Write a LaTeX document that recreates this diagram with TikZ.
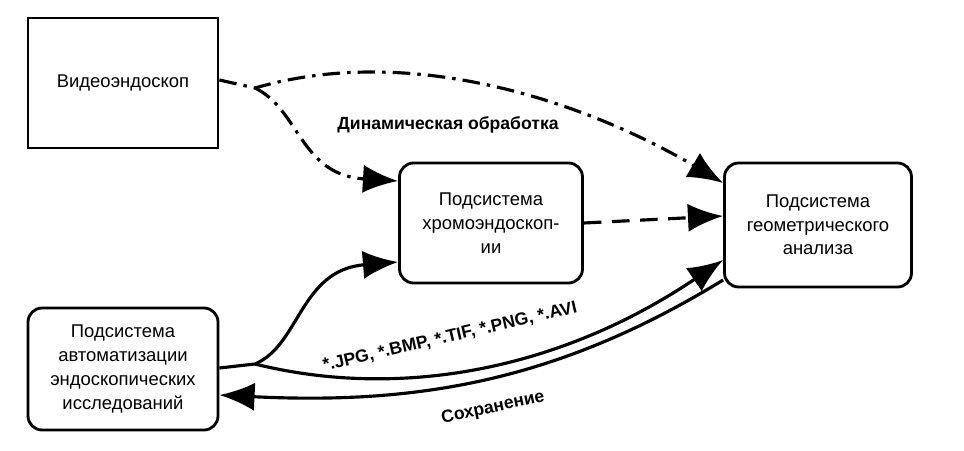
\documentclass[tikz,border=0pt]{standalone}
\usepackage{fontspec}
\setmainfont{Liberation Sans}
\usetikzlibrary{arrows.meta}
\begin{document}
\begin{tikzpicture}[x=0.02cm,y=-0.02cm,
  box/.style={draw,line width=1.6pt,align=center,font=\fontsize{10.5}{13.5}\selectfont},
  flow/.style={line width=1.8pt,-{Latex[length=20pt,width=16pt]}},
  lbl/.style={font=\bfseries\fontsize{10}{11}\selectfont}]
\useasboundingbox (0,0) rectangle (964,450);
\node [box,minimum width=190*0.02cm,minimum height=130*0.02cm] (video) at (123,83) {Видеоэндоскоп};
\node [box,rounded corners=8pt,minimum width=183*0.02cm,minimum height=120*0.02cm] (chromo) at (491,223) {Подсистема\\хромоэндоскоп-\\ии};
\node [box,rounded corners=8pt,minimum width=187*0.02cm,minimum height=124*0.02cm] (geom) at (818,225) {Подсистема\\геометрического\\анализа};
\node [box,rounded corners=8pt,minimum width=190*0.02cm,minimum height=122*0.02cm] (auto) at (123,369) {Подсистема\\автоматизации\\эндоскопических\\исследований};
\coordinate (split1) at (255,88);
\coordinate (split2) at (255,364);
% dynamic processing
\draw [flow,dash pattern=on 10pt off 4pt on 2pt off 4pt] (video.east |- 0,80) -- (split1) .. controls (420,40) and (600,110) .. (geom.west |- 0,183);
\draw [flow,dash pattern=on 10pt off 4pt on 2pt off 4pt] (split1) .. controls (300,110) and (300,175) .. (chromo.west |- 0,181);
\draw [flow,dash pattern=on 10pt off 6pt] (chromo.east) -- (geom.west |- 0,216);
% files
\draw [flow] (auto.east |- 0,368) -- (split2) .. controls (300,345) and (300,270) .. (chromo.west |- 0,262);
\draw [flow] (split2) .. controls (400,400) and (560,370) .. (geom.west |- 0,260);
\draw [flow] (geom.west |- 0,280) .. controls (560,380) and (420,405) .. (auto.east |- 0,395);
\node [lbl] (dyn) at (448,125) {Динамическая обработка};
\node [lbl,rotate=13] (ext) at (450,337) {*.JPG, *.BMP, *.TIF, *.PNG, *.AVI};
\node [lbl,rotate=12] (save) at (493,408) {Сохранение};
\end{tikzpicture}
\end{document}
